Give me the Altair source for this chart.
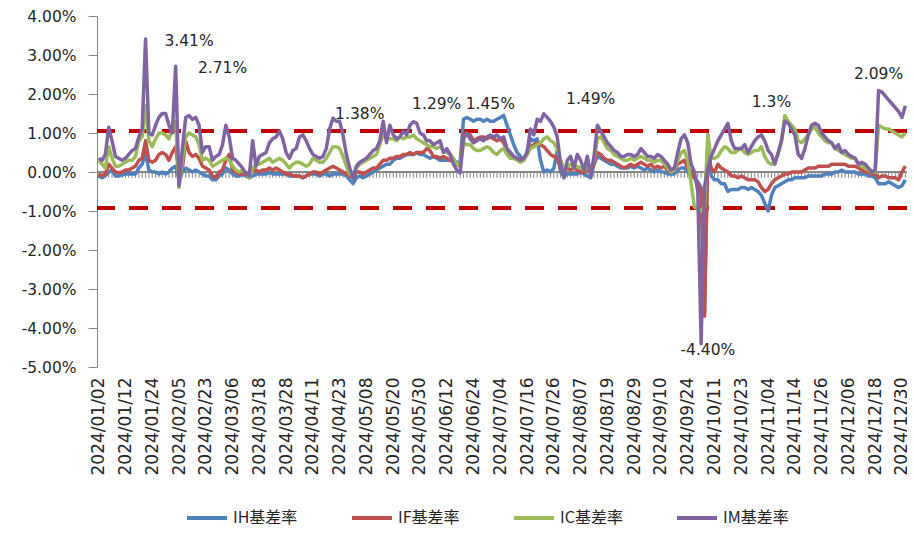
import altair as alt
import pandas as pd

# ---- categories: 2024 trading days (weekdays minus exchange holidays) ----
HOLIDAYS = [
    "2024-01-01", "2024-02-09", "2024-02-12", "2024-02-13", "2024-02-14",
    "2024-02-15", "2024-02-16", "2024-04-04", "2024-04-05", "2024-05-01",
    "2024-05-02", "2024-05-03", "2024-06-10", "2024-09-16", "2024-09-17",
    "2024-10-01", "2024-10-02", "2024-10-03", "2024-10-04", "2024-10-07",
]
dates = [d.strftime("%Y/%m/%d") for d in pd.bdate_range("2024-01-01", "2024-12-31")
         if d.strftime("%Y-%m-%d") not in HOLIDAYS]
label_dates = dates[::8]

SERIES = ["IH基差率", "IF基差率", "IC基差率", "IM基差率"]
COLORS = ["#4F81BD", "#C0504D", "#9BBB59", "#8064A2"]

IH = [
    -0.10, -0.15, -0.10, 0.00, 0.05, -0.10, -0.10, -0.08, -0.05,
    -0.05, -0.05, -0.05, 0.10, 0.20, 0.50, 0.05, 0.00,
    0.00, -0.05, 0.00, -0.05, 0.00, 0.10, 0.15, -0.20,
    0.00, 0.10, 0.05, 0.00, 0.05, 0.00, -0.05, -0.10,
    -0.10, -0.20, -0.20, -0.10, -0.05, 0.10, 0.05, -0.05,
    -0.10, -0.10, -0.05, -0.10, -0.15, -0.10, -0.05, -0.05,
    -0.05, -0.05, 0.00, -0.05, -0.05, -0.05, -0.05, -0.05,
    -0.10, -0.10, -0.10, -0.10, -0.15, -0.10, -0.05, -0.05,
    -0.05, -0.10, -0.05, -0.05, -0.10, -0.05, -0.05, -0.05,
    -0.05, -0.10, -0.20, -0.30, -0.15, -0.10, -0.15, -0.10,
    -0.05, 0.00, 0.05, 0.10, 0.15, 0.20, 0.20, 0.30,
    0.35, 0.35, 0.40, 0.45, 0.45, 0.45, 0.50, 0.45,
    0.45, 0.40, 0.35, 0.40, 0.35, 0.30, 0.30, 0.30,
    0.30, 0.30, 0.25, 0.25, 1.35, 1.40, 1.35, 1.30,
    1.35, 1.35, 1.30, 1.35, 1.30, 1.30, 1.35, 1.40,
    1.45, 1.20, 0.95, 0.70, 0.50, 0.40, 0.30, 0.50,
    0.85, 0.80, 0.85, 0.30, 0.00, 0.05, 0.00, 0.10,
    0.55, 0.00, -0.10, -0.05, -0.05, -0.05, -0.05, 0.00,
    -0.05, -0.10, -0.15, 0.20, 0.40, 0.35, 0.30, 0.25,
    0.20, 0.20, 0.15, 0.10, 0.10, 0.10, 0.15, 0.10,
    0.15, 0.10, 0.05, 0.10, 0.05, 0.00, 0.05, 0.00,
    0.00, -0.05, -0.05, -0.05, 0.05, 0.10, 0.10, 0.00,
    -0.10, -0.15, -0.25, -0.40, -3.60, 0.95, -0.10, -0.20,
    -0.20, -0.30, -0.30, -0.50, -0.45, -0.45, -0.45, -0.40,
    -0.40, -0.45, -0.40, -0.45, -0.50, -0.60, -0.80, -1.00,
    -0.60, -0.40, -0.35, -0.30, -0.25, -0.20, -0.20, -0.15,
    -0.15, -0.15, -0.15, -0.10, -0.10, -0.10, -0.10, -0.10,
    -0.05, -0.05, -0.05, 0.00, 0.00, 0.05, 0.00, 0.00,
    0.00, 0.00, -0.05, -0.05, -0.05, -0.10, -0.10, -0.15,
    -0.30, -0.30, -0.30, -0.25, -0.30, -0.35, -0.40, -0.35, -0.20,
]

IF = [
    -0.05, -0.10, -0.05, 0.20, 0.10, 0.00, -0.02, 0.00, 0.05,
    0.05, 0.10, 0.15, 0.30, 0.35, 0.80, 0.30, 0.25,
    0.30, 0.45, 0.50, 0.45, 0.30, 0.50, 0.65, -0.10,
    0.10, 0.80, 0.50, 0.40, 0.45, 0.35, 0.15, 0.10,
    0.05, -0.10, -0.15, 0.00, 0.05, 0.30, 0.45, 0.05,
    0.00, -0.05, -0.05, -0.05, -0.05, 0.05, 0.05, 0.00,
    0.05, 0.05, 0.10, 0.05, 0.10, 0.05, 0.00, -0.05,
    -0.05, -0.10, -0.10, -0.10, -0.15, -0.10, -0.05, 0.00,
    0.00, -0.05, 0.00, 0.05, 0.10, 0.15, 0.10, 0.05,
    0.00, -0.05, -0.10, -0.15, 0.00, 0.00, -0.05, 0.00,
    0.05, 0.10, 0.10, 0.20, 0.30, 0.30, 0.35, 0.35,
    0.40, 0.40, 0.45, 0.45, 0.50, 0.45, 0.50, 0.50,
    0.50, 0.60, 0.55, 0.40, 0.40, 0.35, 0.40, 0.35,
    0.30, 0.25, 0.20, 0.15, 0.95, 1.00, 0.95, 0.80,
    0.85, 0.90, 0.90, 0.85, 0.90, 0.85, 0.80, 0.85,
    0.75, 0.55, 0.45, 0.40, 0.35, 0.30, 0.35, 0.45,
    0.65, 0.70, 0.75, 0.70, 0.65, 0.55, 0.45, 0.40,
    0.35, 0.10, 0.05, 0.10, 0.05, 0.10, 0.05, 0.00,
    0.00, 0.05, 0.00, 0.20, 0.50, 0.45, 0.35, 0.30,
    0.30, 0.25, 0.20, 0.15, 0.10, 0.15, 0.20, 0.15,
    0.20, 0.25, 0.20, 0.15, 0.20, 0.10, 0.15, 0.10,
    0.15, 0.05, 0.00, 0.05, 0.20, 0.25, 0.30, 0.10,
    0.00, -0.15, -0.30, -0.50, -3.70, 0.50, 0.10, 0.00,
    0.20, 0.10, 0.05, 0.00, -0.10, -0.10, -0.15, -0.10,
    -0.15, -0.20, -0.20, -0.20, -0.25, -0.40, -0.50, -0.45,
    -0.30, -0.20, -0.15, -0.10, -0.05, -0.05, 0.00, 0.00,
    0.00, 0.00, 0.05, 0.10, 0.10, 0.10, 0.15, 0.15,
    0.15, 0.15, 0.20, 0.20, 0.20, 0.20, 0.20, 0.15,
    0.15, 0.15, 0.10, 0.05, 0.00, 0.00, -0.05, -0.05,
    -0.15, -0.10, -0.10, -0.15, -0.15, -0.15, -0.20, 0.00, 0.15,
]

IC = [
    0.30, 0.20, 0.10, 0.65, 0.35, 0.15, 0.15, 0.20, 0.25,
    0.30, 0.30, 0.40, 0.80, 0.90, 1.70, 0.80, 0.65,
    0.85, 1.00, 1.00, 0.95, 0.85, 1.10, 1.30, -0.40,
    0.30, 0.90, 1.00, 0.95, 0.90, 0.70, 0.30, 0.35,
    0.30, 0.15, 0.20, 0.25, 0.30, 0.35, 0.30, 0.15,
    0.05, 0.00, 0.05, -0.05, -0.15, 0.10, 0.20, 0.20,
    0.25, 0.30, 0.35, 0.25, 0.30, 0.35, 0.30, 0.20,
    0.10, 0.20, 0.25, 0.25, 0.20, 0.15, 0.20, 0.35,
    0.30, 0.25, 0.25, 0.35, 0.50, 0.65, 0.65, 0.60,
    0.40, 0.15, -0.05, -0.10, 0.10, 0.20, 0.25, 0.30,
    0.35, 0.40, 0.45, 0.70, 0.95, 0.85, 0.85, 0.85,
    0.80, 0.90, 0.85, 0.90, 0.90, 0.95, 0.85, 0.80,
    0.75, 0.70, 0.65, 0.65, 0.60, 0.65, 0.55, 0.50,
    0.45, 0.35, 0.20, 0.20, 0.75, 0.70, 0.70, 0.60,
    0.55, 0.55, 0.60, 0.65, 0.60, 0.50, 0.45, 0.55,
    0.60, 0.45, 0.35, 0.35, 0.30, 0.25, 0.30, 0.45,
    0.60, 0.65, 0.70, 0.75, 0.85, 0.90, 0.80, 0.75,
    0.60, 0.30, 0.10, 0.15, 0.20, 0.10, 0.15, 0.10,
    0.05, 0.15, 0.00, 0.30, 0.85, 0.90, 0.75, 0.60,
    0.55, 0.45, 0.40, 0.35, 0.30, 0.30, 0.35, 0.30,
    0.35, 0.40, 0.35, 0.30, 0.30, 0.25, 0.30, 0.30,
    0.20, 0.10, 0.00, 0.05, 0.30, 0.50, 0.55, 0.30,
    -0.30, -0.90, -0.95, -1.00, -0.90, 0.95, 0.35, 0.35,
    0.40, 0.55, 0.65, 0.60, 0.50, 0.50, 0.55, 0.60,
    0.50, 0.45, 0.50, 0.55, 0.55, 0.65, 0.40, 0.25,
    0.20, 0.25, 0.45, 0.80, 1.45, 1.30, 1.20, 1.10,
    0.80, 0.75, 0.85, 0.95, 1.10, 1.15, 1.00, 0.90,
    0.80, 0.75, 0.75, 0.60, 0.55, 0.50, 0.45, 0.40,
    0.35, 0.35, 0.20, 0.15, 0.10, 0.05, 0.00, 0.00,
    1.20, 1.15, 1.10, 1.10, 1.05, 1.00, 0.95, 0.90, 1.00,
]

IM = [
    0.35, 0.30, 0.45, 1.15, 0.80, 0.40, 0.35, 0.30, 0.35,
    0.45, 0.55, 0.60, 0.90, 1.10, 3.41, 1.00, 0.95,
    1.20, 1.40, 1.50, 1.50, 1.20, 1.00, 2.71, -0.35,
    0.60, 1.40, 1.45, 1.35, 1.40, 1.20, 0.50, 0.65,
    0.65, 0.30, 0.40, 0.45, 0.70, 1.20, 0.90, 0.35,
    0.30, 0.20, 0.10, -0.05, -0.10, 0.80, 0.15, 0.40,
    0.45, 0.50, 0.75, 0.85, 0.90, 1.05, 0.85, 0.50,
    0.35, 0.55, 0.60, 0.90, 0.95, 0.80, 0.60, 0.45,
    0.40, 0.35, 0.40, 0.60, 1.10, 1.38, 1.30, 1.30,
    0.95, 0.45, 0.10, -0.15, 0.15, 0.25, 0.30, 0.35,
    0.45, 0.55, 0.60, 0.80, 1.30, 0.75, 1.20, 0.95,
    0.85, 0.90, 1.05, 0.95, 1.20, 1.29, 1.25, 1.00,
    0.95, 0.80, 0.80, 0.70, 0.75, 0.80, 0.50, 0.60,
    0.45, 0.20, 0.05, -0.02, 0.85, 1.00, 0.85, 0.75,
    0.80, 0.85, 0.80, 0.90, 0.95, 0.90, 0.95, 0.85,
    0.90, 0.60, 0.50, 0.40, 0.35, 0.30, 0.35, 0.50,
    1.10, 0.95, 1.35, 1.30, 1.49, 1.40, 1.30, 1.15,
    0.90, 0.20, -0.15, 0.30, 0.40, 0.10, 0.45, 0.30,
    0.05, 0.40, -0.10, 0.40, 1.20, 1.05, 0.90, 0.75,
    0.65, 0.55, 0.50, 0.40, 0.40, 0.45, 0.45, 0.40,
    0.45, 0.60, 0.50, 0.40, 0.40, 0.35, 0.45, 0.40,
    0.30, 0.20, 0.05, 0.10, 0.50, 0.85, 0.95, 0.75,
    0.20, 0.00, -0.50, -4.40, -0.40, 0.10, 0.40, 0.60,
    0.80, 0.95, 1.10, 1.25, 0.80, 0.60, 0.60, 0.60,
    0.70, 0.50, 0.65, 0.80, 0.90, 0.95, 0.80, 0.55,
    0.45, 0.20, 0.50, 0.80, 1.30, 1.25, 1.10, 0.95,
    0.45, 0.35, 0.60, 0.95, 1.20, 1.25, 1.20, 1.00,
    0.90, 0.80, 0.75, 0.60, 0.70, 0.50, 0.55, 0.45,
    0.40, 0.35, 0.20, 0.25, 0.20, 0.10, 0.00, 0.05,
    2.09, 2.05, 1.95, 1.85, 1.75, 1.65, 1.55, 1.40, 1.70,
]

# reference lines (upper / lower band)
BAND = [1.05, -0.92]

# annotation texts and their anchor (category, value)
ANN_TEXT = ["3.41%", "2.71%", "1.38%", "1.29%", "1.45%", "1.49%", "-4.40%", "1.3%", "2.09%"]
ANN_IDX = [27, 37, 78, 101, 117, 147, 182, 201, 233]
ANN_VAL = [3.36, 2.67, 1.49, 1.74, 1.74, 1.87, -4.56, 1.79, 2.51]

Y_TICKS = [-5, -4, -3, -2, -1, 0, 1, 2, 3, 4]

# ---- tables ----
rows = []
for name, vals in zip(SERIES, [IH, IF, IC, IM]):
    for d, v in zip(dates, vals):
        rows.append({"date": d, "series": name, "value": v})
df = pd.DataFrame(rows)
ticks_df = pd.DataFrame({"date": dates})
band_df = pd.DataFrame({"v": BAND})
ann_df = pd.DataFrame({"date": [dates[i] for i in ANN_IDX], "value": ANN_VAL, "text": ANN_TEXT})

GRAY = "#868686"
TXT = "#262626"

xscale = alt.Scale(type="point", padding=0.5, domain=dates)
x_axis = alt.Axis(values=label_dates, labelAngle=-90, ticks=False, domain=False,
                  grid=False, labelFont="DejaVu Sans", labelFontSize=17,
                  labelColor=TXT, labelPadding=10, labelOverlap=False,
                  labelFlush=False, title=None)
x_enc = alt.X("date:O", scale=xscale, axis=x_axis)

yscale = alt.Scale(domain=[-5, 4], nice=False, zero=False)
y_axis = alt.Axis(values=Y_TICKS,
                  labelExpr="(datum.value < 0 ? '-' : '') + format(abs(datum.value), '.2f') + '%'",
                  tickSize=9, tickColor=GRAY, domainColor=GRAY, grid=False,
                  labelFont="DejaVu Sans", labelFontSize=15.5, labelColor=TXT,
                  labelPadding=12, labelOverlap=False, labelFlush=False, title=None)
y_enc = alt.Y("value:Q", scale=yscale, axis=y_axis)

color_enc = alt.Color(
    "series:N",
    scale=alt.Scale(domain=SERIES, range=COLORS),
    legend=alt.Legend(orient="none", legendX=88, legendY=480, direction="horizontal",
                      title=None, symbolType="stroke", symbolSize=1600,
                      symbolStrokeWidth=4, labelFont="Noto Sans CJK SC",
                      labelFontSize=16, labelColor=TXT, columnPadding=46,
                      labelOffset=4, padding=0),
)

zero_line = alt.Chart(ticks_df).mark_rule(color=GRAY, strokeWidth=1).encode(
    y=alt.YDatum(0, scale=yscale, axis=y_axis)
)
tick_marks = alt.Chart(ticks_df).mark_rule(color=GRAY, strokeWidth=1).encode(
    x=x_enc, y=alt.YDatum(0, axis=y_axis), y2=alt.datum(-0.15)
)
band = alt.Chart(band_df).mark_rule(color="#C00000", strokeWidth=4,
                                    strokeDash=[19, 14]).encode(
    y=alt.Y("v:Q", scale=yscale, axis=y_axis)
)

lines = []
for name in SERIES:
    lines.append(
        alt.Chart(df).transform_filter(alt.datum.series == name)
        .mark_line(strokeWidth=3.5, strokeJoin="round")
        .encode(x=x_enc, y=y_enc, color=color_enc)
    )

ann = alt.Chart(ann_df).mark_text(font="DejaVu Sans", fontSize=15.5, color=TXT,
                                  baseline="middle", align="center").encode(
    x=x_enc, y=alt.Y("value:Q", scale=yscale, axis=y_axis), text="text:N"
)

chart = alt.layer(zero_line, tick_marks, band, *lines, ann).properties(
    width=810, height=351,
    autosize=alt.AutoSizeParams(type="none"),
    padding={"left": 89, "top": 8, "right": 0, "bottom": 160},
    background="white",
).configure_view(stroke=None).configure_axis(labelOverlap=False)

chart.save("out.html", embed_options={"renderer": "svg", "actions": False})
